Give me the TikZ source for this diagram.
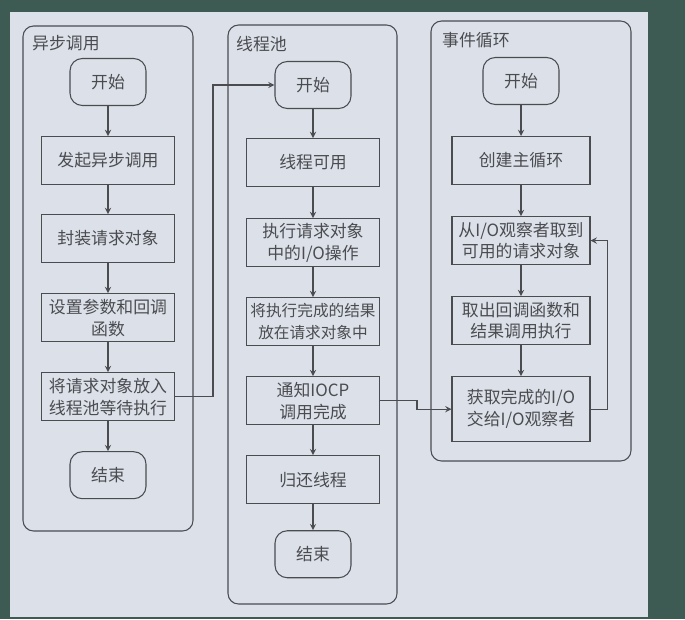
\documentclass[tikz,border=0pt]{standalone}
\usepackage{fontspec}
\setmainfont{Noto Sans CJK SC}
\usepackage{tikz}
\usetikzlibrary{positioning, arrows.meta}
\usepackage{xcolor}
\definecolor{board}{HTML}{3D5A53}
\definecolor{paper}{HTML}{DCE0E8}
\definecolor{ink}{HTML}{4A4C50}

\begin{document}
\begin{tikzpicture}[
  x=0.02cm, y=-0.02cm,
  proc/.style={rectangle, draw=ink, semithick, minimum width=2.66cm,
               minimum height=0.96cm, inner sep=2pt, align=center, text=ink,
               font=\fontsize{9.6}{12.5}\selectfont},
  term/.style={rectangle, draw=ink, semithick, rounded corners=7pt,
               minimum width=1.52cm, minimum height=0.94cm, inner sep=2pt,
               text=ink, font=\fontsize{9.6}{12.5}\selectfont},
  frame/.style={draw=ink, semithick, rounded corners=6pt},
  title/.style={anchor=west, text=ink, font=\fontsize{9.6}{12}\selectfont},
  arrow/.style={->, semithick, draw=ink, >=stealth},
  node distance=0.6cm
]

% paper on the board
\fill[board] (0,0) rectangle (685,619);
\fill[paper] (10,12) rectangle (648,617);
\useasboundingbox (0,0) rectangle (685,619);

% Frames
\draw[frame] (23,26) rectangle (193,531);
\draw[frame] (228,25) rectangle (397,604);
\draw[frame] (431,21) rectangle (631,461);

% Column 1 — 异步调用
\node[title] (t1) at (26,43) {异步调用};
\node[term] (start1) at (108,82) {开始};
\node[proc, below=of start1] (call1) {发起异步调用};
\node[proc, below=0.58cm of call1] (wrap1) {封装请求对象};
\node[proc, below=of wrap1] (param1) {设置参数和回调\\函数};
\node[proc, below=of param1] (queue1) {将请求对象放入\\线程池等待执行};
\node[term, below=of queue1] (end1) {结束};

% Column 2 — 线程池
\node[title] (t2) at (230,44) {线程池};
\node[term] (start2) at (313,85) {开始};
\node[proc, below=0.58cm of start2] (ready2) {线程可用};
\node[proc, below=0.62cm of ready2] (exec2) {执行请求对象\\中的I/O操作};
\node[proc, below=of exec2, font=\fontsize{8.9}{12.5}\selectfont] (save2) {将执行完成的结果\\放在请求对象中};
\node[proc, below=of save2] (notify2) {通知IOCP\\调用完成};
\node[proc, below=of notify2] (back2) {归还线程};
\node[term, below=0.52cm of back2] (end2) {结束};

% Column 3 — 事件循环
\node[title] (t3) at (436,40) {事件循环};
\node[term] (start3) at (521,81) {开始};
\node[proc, minimum width=2.76cm, below=0.62cm of start3] (loop3) {创建主循环};
\node[proc, minimum width=2.76cm, below=0.62cm of loop3] (fetch3) {从I/O观察者取到\\可用的请求对象};
\node[proc, minimum width=2.76cm, below=0.62cm of fetch3] (run3) {取出回调函数和\\结果调用执行};
\node[proc, minimum width=2.76cm, minimum height=1.3cm, below=0.62cm of run3] (take3) {获取完成的I/O\\交给I/O观察者};

% Arrows inside each column
\draw[arrow] (start1) -- (call1);
\draw[arrow] (call1) -- (wrap1);
\draw[arrow] (wrap1) -- (param1);
\draw[arrow] (param1) -- (queue1);
\draw[arrow] (queue1) -- (end1);

\draw[arrow] (start2) -- (ready2);
\draw[arrow] (ready2) -- (exec2);
\draw[arrow] (exec2) -- (save2);
\draw[arrow] (save2) -- (notify2);
\draw[arrow] (notify2) -- (back2);
\draw[arrow] (back2) -- (end2);

\draw[arrow] (start3) -- (loop3);
\draw[arrow] (loop3) -- (fetch3);
\draw[arrow] (fetch3) -- (run3);
\draw[arrow] (run3) -- (take3);

% Arrows across columns and the loop
\draw[arrow] (queue1.east) -- ++(38,0) |- (start2.west);
\draw[arrow] (notify2.east) -- ++(37,0) |- (take3.west);
\draw[arrow] (take3.east) -- ++(17,0) |- (fetch3.east);

\end{tikzpicture}
\end{document}
